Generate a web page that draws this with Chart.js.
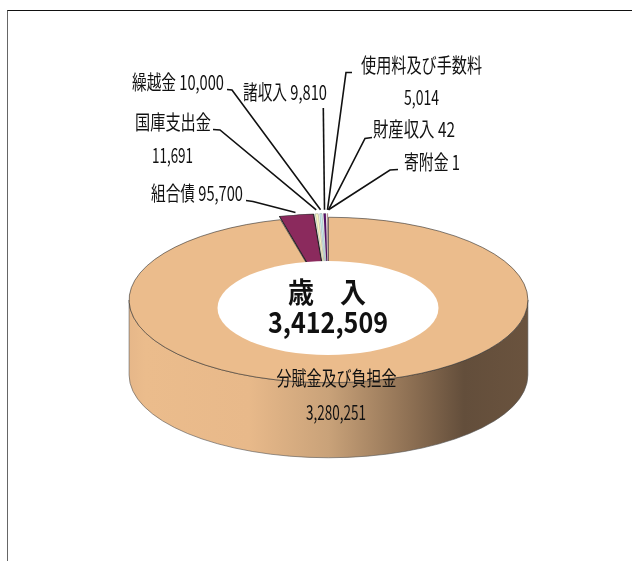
<!DOCTYPE html>
<html>
<head>
<meta charset="utf-8">
<style>
  html, body { margin: 0; background: #fff; overflow: hidden; }
  #frame { position: absolute; left: 7px; top: 10px; width: 625px; height: 551px;
           border-top: 1px solid #111; border-left: 1px solid #666; box-sizing: border-box; }
  canvas { position: absolute; left: 0; top: 0; }
</style>
<script src="https://cdn.jsdelivr.net/npm/chart.js@4"></script>
</head>
<body>
<div id="frame"></div>
<canvas id="pie" width="632" height="561"></canvas>
<script>
const categories = ["分賦金及び負担金", "組合債", "国庫支出金", "繰越金", "諸収入", "使用料及び手数料", "財産収入", "寄附金"];
const amounts = [3280251, 95700, 11691, 10000, 9810, 5014, 42, 1];
const sliceColors = ["#EBBC8C", "#8B2A5D", "#F6F3C2", "#C9EDEF", "#5A0F6B", "#E07070", "#E07070", "#E07070"];
const sliceBorders = [0.8, 1.2, 0.3, 0.3, 0.3, 0.3, 0, 0];
const sliceOffsets = [0, 18, 18, 18, 18, 18, 18, 18];
const centerTitle = "歳　入";
const centerTotal = "3,412,509";

const tilt = 0.415;
const pieCenterY = 300;
const wallDepth = 75;
const font = '"Noto Sans CJK JP"';
const fmt = n => n.toLocaleString("en-US");

// label text: [index, x, y, width], two-line labels have the value on its own row
const nameLabels = [
  [5, 421.5, 65, 121], [2, 173, 122, 76]
];
const valueLabels = [
  [5, 421.5, 97, 35], [2, 172.5, 155, 41], [0, 336, 412, 60]
];
const inlineLabels = [
  [3, 178, 82, 92], [4, 285, 92, 84], [1, 197, 193, 92], [6, 414, 129, 82], [7, 432, 162, 56]
];
// leader lines: index, label end, elbow, fraction of radius where it lands
const leaders = [
  [1, [246, 200.5], [253, 201.5], 0.98],
  [2, [213, 129.5], [220, 130], 1],
  [3, [227, 89.5], [232, 90], 1],
  [4, [323.3, 108], null, 1],
  [5, [352, 72.5], [346, 72.5], 1],
  [6, [372, 137.5], [365, 138.5], 1],
  [7, [398, 169.5], [390, 170], 1]
];

function sliceEdge(chart, i, frac) {
  const arc = chart.getDatasetMeta(0).data[i];
  const p = arc.getProps(["x", "y", "startAngle", "endAngle", "outerRadius"], true);
  const mid = (p.startAngle + p.endAngle) / 2;
  const r = p.outerRadius * frac + arc.options.offset;
  return [p.x + Math.cos(mid) * r, pieCenterY + Math.sin(mid) * r * tilt];
}

function drawText(ctx, text, x, y, width, size, weight, color) {
  ctx.font = (weight || "normal") + " " + size + "px " + font;
  ctx.fillStyle = color || "#111";
  ctx.textAlign = "center";
  ctx.textBaseline = "middle";
  ctx.fillText(text, x, y, width);
}

const pseudo3d = {
  id: "pseudo3d",
  beforeDatasetsDraw(chart) {
    const ctx = chart.ctx;
    const arc = chart.getDatasetMeta(0).data[0];
    const cx = arc.x, rx = arc.outerRadius, ry = rx * tilt;
    // side wall of the disc
    const grad = ctx.createLinearGradient(cx - rx, 0, cx + rx, 0);
    grad.addColorStop(0, "#E6B789");
    grad.addColorStop(0.04, "#EBBC8C");
    grad.addColorStop(0.3, "#E8B98A");
    grad.addColorStop(0.5, "#C9A279");
    grad.addColorStop(0.7, "#8F7154");
    grad.addColorStop(0.84, "#634E3B");
    grad.addColorStop(1, "#6A533E");
    ctx.save();
    ctx.beginPath();
    ctx.ellipse(cx, pieCenterY, rx, ry, 0, 0, Math.PI);
    ctx.lineTo(cx - rx, pieCenterY + wallDepth);
    ctx.ellipse(cx, pieCenterY + wallDepth, rx, ry, 0, Math.PI, 0, true);
    ctx.closePath();
    ctx.fillStyle = grad;
    ctx.fill();
    ctx.strokeStyle = "#555";
    ctx.lineWidth = 0.6;
    ctx.stroke();
    ctx.restore();
    // flatten the pie itself
    ctx.save();
    ctx.translate(cx, pieCenterY);
    ctx.scale(1, tilt);
    ctx.translate(-cx, -arc.y);
  },
  afterDatasetsDraw(chart) {
    const ctx = chart.ctx;
    ctx.restore();
    const cx = chart.getDatasetMeta(0).data[0].x;

    // white oval with the total
    ctx.beginPath();
    ctx.ellipse(cx - 0.5, 308, 110.5, 47, 0, 0, Math.PI * 2);
    ctx.fillStyle = "#fff";
    ctx.fill();
    drawText(ctx, centerTitle, 327, 292, 78, 28, "bold", "#111");
    drawText(ctx, centerTotal, 328, 322, 120, 29, "bold", "#111");

    // leader lines
    ctx.strokeStyle = "#111";
    ctx.lineWidth = 1.6;
    leaders.forEach(([i, start, elbow, frac]) => {
      const end = sliceEdge(chart, i, frac);
      ctx.beginPath();
      ctx.moveTo(start[0], start[1]);
      if (elbow) ctx.lineTo(elbow[0], elbow[1]);
      ctx.lineTo(end[0], end[1]);
      ctx.stroke();
    });

    // labels
    nameLabels.forEach(([i, x, y, w]) => drawText(ctx, categories[i], x, y, w, 20));
    valueLabels.forEach(([i, x, y, w]) => drawText(ctx, fmt(amounts[i]), x, y, w, 20));
    inlineLabels.forEach(([i, x, y, w]) => drawText(ctx, categories[i] + " " + fmt(amounts[i]), x, y, w, 20));
    drawText(ctx, categories[0], 336.5, 378, 120, 20);
  }
};

new Chart(document.getElementById("pie").getContext("2d"), {
  type: "pie",
  data: {
    labels: categories,
    datasets: [{
      data: amounts,
      backgroundColor: sliceColors,
      offset: sliceOffsets,
      borderColor: "#222",
      borderWidth: sliceBorders,
      clip: false
    }]
  },
  options: {
    responsive: false,
    animation: false,
    devicePixelRatio: 1,
    rotation: 0,
    events: [],
    layout: { padding: { left: 119.5, right: 94.5, top: 0, bottom: 0 } },
    plugins: { legend: { display: false }, tooltip: { enabled: false } }
  },
  plugins: [pseudo3d]
});
</script>
</body>
</html>
